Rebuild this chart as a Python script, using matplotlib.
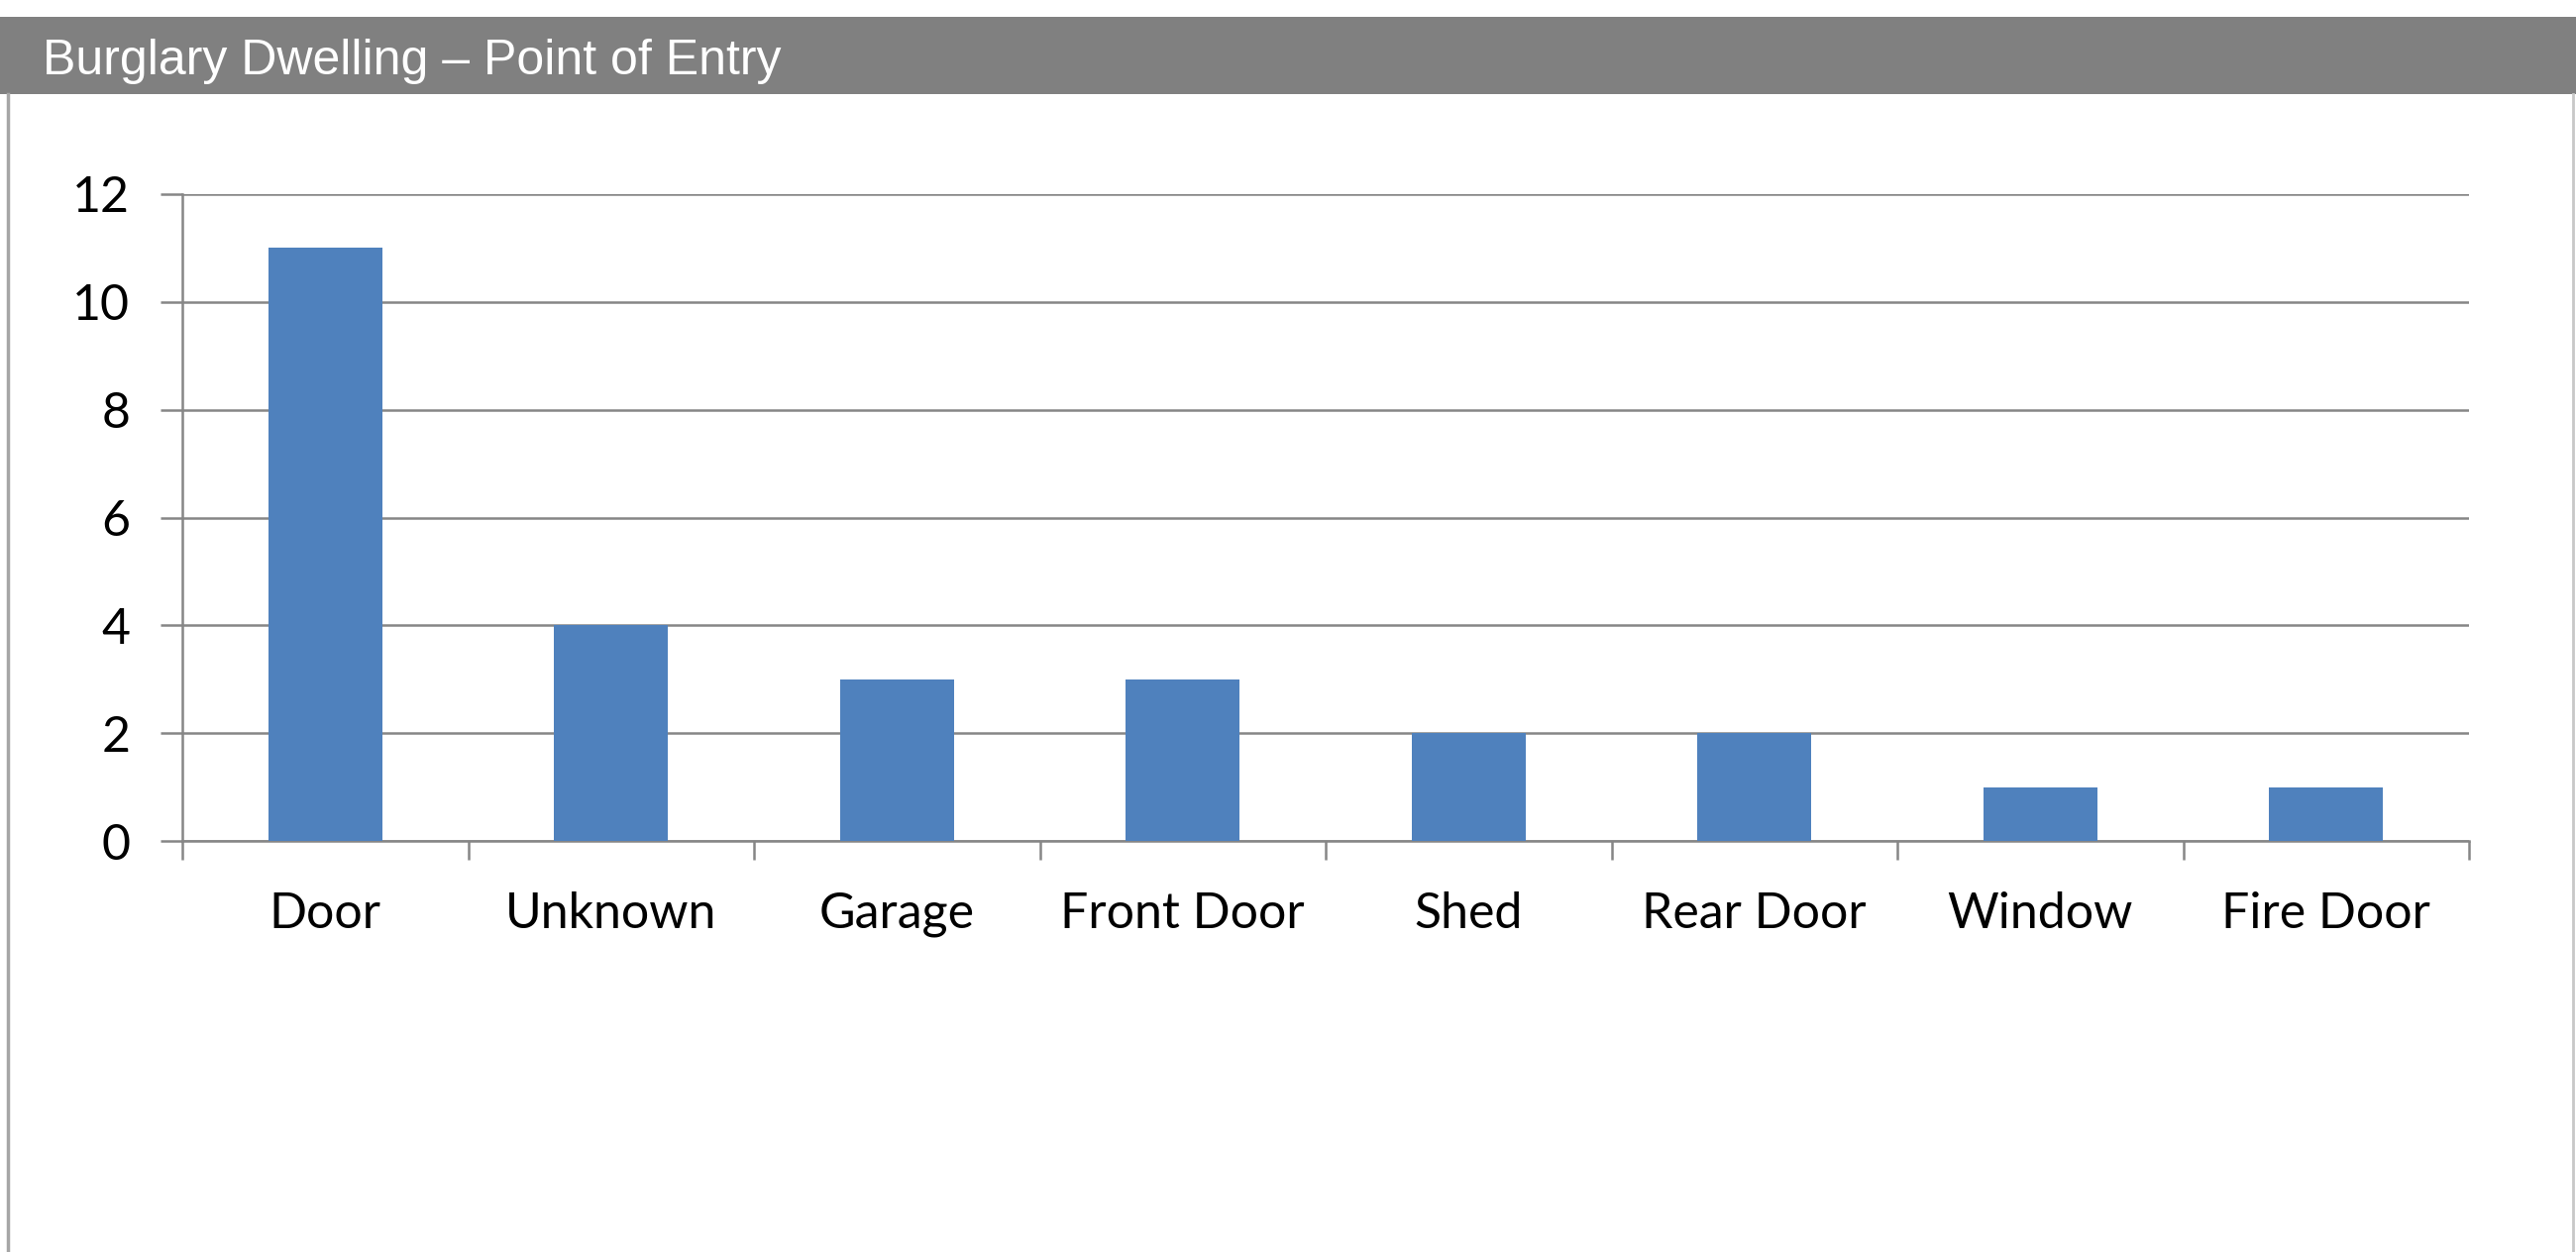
import matplotlib
matplotlib.use('Agg')
import matplotlib.pyplot as plt
from matplotlib.patches import Rectangle
from matplotlib.lines import Line2D
import numpy as np

plt.rcParams['font.family'] = ['Lato', 'DejaVu Sans']

categories = ['Door', 'Unknown', 'Garage', 'Front Door', 'Shed', 'Rear Door', 'Window', 'Fire Door']
counts = [11, 4, 3, 3, 2, 2, 1, 1]
yticks = [0, 2, 4, 6, 8, 10, 12]
title = 'Burglary Dwelling \u2013 Point of Entry'

W, H = 2600, 1264
fig = plt.figure(figsize=(W / 100, H / 100), dpi=100)
fig.patch.set_facecolor('white')

# header band and frame
fig.patches.append(Rectangle((0, 1 - 95 / H), 1, 78 / H, transform=fig.transFigure,
                             facecolor='#808080', edgecolor='none'))
fig.lines.append(Line2D([8 / W, 8 / W], [0, 1 - 95 / H], transform=fig.transFigure,
                        color='#a6a6a6', linewidth=2.5))
fig.lines.append(Line2D([2597 / W, 2597 / W], [0, 1 - 95 / H], transform=fig.transFigure,
                        color='#c8c8c8', linewidth=2))
fig.text(43 / W, 1 - 62 / H, title, color='white', fontsize=36,
         family='Liberation Sans', va='center', ha='left')

ax = fig.add_axes([184 / W, 1 - 849 / H, (2492 - 184) / W, (849 - 196) / H])
x = np.arange(len(categories))
ax.bar(x, counts, width=0.4, color='#4f81bd', zorder=3)

ax.set_xlim(-0.5, len(categories) - 0.5)
ax.set_ylim(0, 12)
ax.set_yticks(yticks)
ax.yaxis.grid(True, color='#868686', linewidth=1.8)
ax.set_axisbelow(True)

ax.set_xticks(x)
ax.set_xticklabels(categories)
ax.set_xticks(np.arange(len(categories) + 1) - 0.5, minor=True)
ax.tick_params(axis='x', which='major', length=0, pad=37, labelsize=36)
ax.tick_params(axis='x', which='minor', length=14, width=1.8, color='#868686', direction='out')
ax.tick_params(axis='y', length=16, width=1.8, color='#868686', pad=22, labelsize=36)

for s in ['top', 'right']:
    ax.spines[s].set_visible(False)
for s in ['left', 'bottom']:
    ax.spines[s].set_color('#868686')
    ax.spines[s].set_linewidth(1.8)

fig.savefig('out.png', dpi=100, facecolor='white')
